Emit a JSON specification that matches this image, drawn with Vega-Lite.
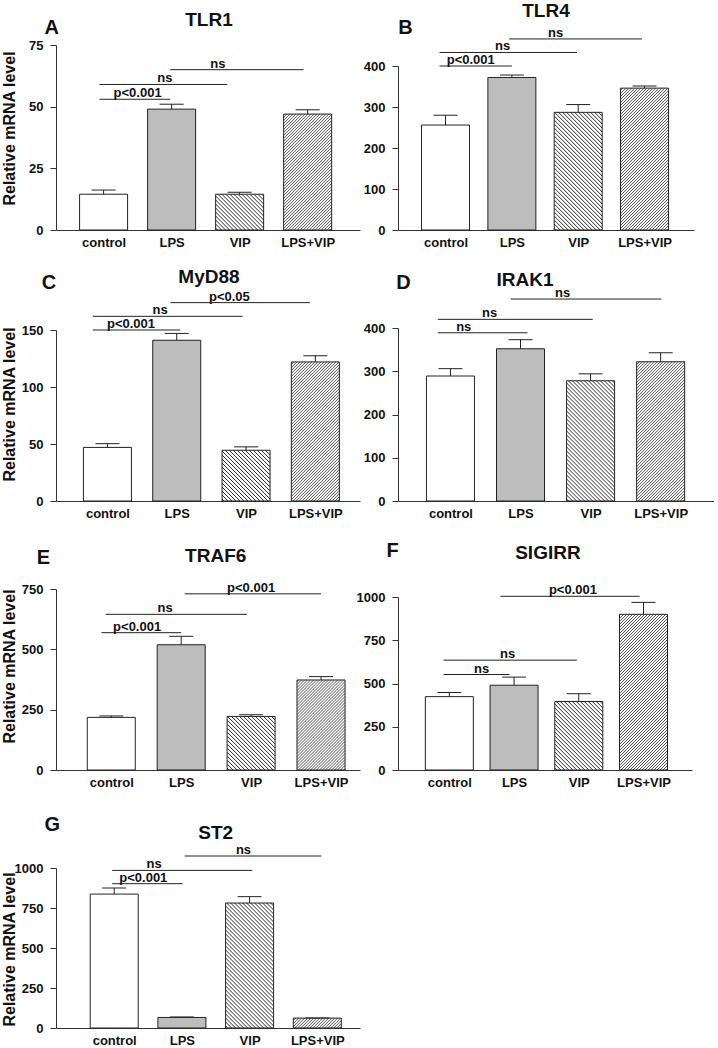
{
"$schema": "https://vega.github.io/schema/vega-lite/v6.json",
"background": "white",
"padding": {"left": 0, "top": 2, "right": 0, "bottom": 0},
"datasets": {
"bars": [
{"p":"A","g":"control","i":0,"v":14.5,"hi":16.2},
{"p":"A","g":"LPS","i":1,"v":49,"hi":51},
{"p":"A","g":"VIP","i":2,"v":14.5,"hi":15.3},
{"p":"A","g":"LPS+VIP","i":3,"v":47,"hi":48.8},
{"p":"B","g":"control","i":0,"v":256,"hi":280},
{"p":"B","g":"LPS","i":1,"v":372,"hi":378},
{"p":"B","g":"VIP","i":2,"v":287,"hi":306},
{"p":"B","g":"LPS+VIP","i":3,"v":346,"hi":351},
{"p":"C","g":"control","i":0,"v":47,"hi":50.3},
{"p":"C","g":"LPS","i":1,"v":141,"hi":147},
{"p":"C","g":"VIP","i":2,"v":44.5,"hi":47.5},
{"p":"C","g":"LPS+VIP","i":3,"v":122,"hi":127.5},
{"p":"D","g":"control","i":0,"v":289,"hi":306},
{"p":"D","g":"LPS","i":1,"v":352,"hi":373},
{"p":"D","g":"VIP","i":2,"v":278,"hi":294},
{"p":"D","g":"LPS+VIP","i":3,"v":322,"hi":343},
{"p":"E","g":"control","i":0,"v":218,"hi":224},
{"p":"E","g":"LPS","i":1,"v":519,"hi":554},
{"p":"E","g":"VIP","i":2,"v":222,"hi":229},
{"p":"E","g":"LPS+VIP","i":3,"v":373,"hi":387},
{"p":"F","g":"control","i":0,"v":424,"hi":448},
{"p":"F","g":"LPS","i":1,"v":490,"hi":537},
{"p":"F","g":"VIP","i":2,"v":396,"hi":441},
{"p":"F","g":"LPS+VIP","i":3,"v":900,"hi":969},
{"p":"G","g":"control","i":0,"v":837,"hi":875},
{"p":"G","g":"LPS","i":1,"v":66,"hi":69},
{"p":"G","g":"VIP","i":2,"v":781,"hi":821},
{"p":"G","g":"LPS+VIP","i":3,"v":62,"hi":63}
],
"brackets": [
{"p":"A","x1":-0.06,"x2":0.98,"y":53,"lx":0.5,"lab":"p<0.001"},
{"p":"A","x1":-0.06,"x2":1.82,"y":59,"lx":0.9,"lab":"ns"},
{"p":"A","x1":0.98,"x2":2.94,"y":65,"lx":1.68,"lab":"ns"},
{"p":"B","x1":-0.09,"x2":1.0,"y":400,"lx":0.38,"lab":"p<0.001"},
{"p":"B","x1":-0.09,"x2":1.98,"y":433,"lx":0.86,"lab":"ns"},
{"p":"B","x1":0.96,"x2":2.96,"y":466,"lx":1.66,"lab":"ns"},
{"p":"C","x1":-0.21,"x2":1.05,"y":150,"lx":0.34,"lab":"p<0.001"},
{"p":"C","x1":-0.21,"x2":1.95,"y":162,"lx":0.76,"lab":"ns"},
{"p":"C","x1":0.91,"x2":2.92,"y":174,"lx":1.76,"lab":"p<0.05"},
{"p":"D","x1":-0.18,"x2":1.1,"y":389,"lx":0.19,"lab":"ns"},
{"p":"D","x1":-0.18,"x2":2.03,"y":420,"lx":0.56,"lab":"ns"},
{"p":"D","x1":0.86,"x2":3.01,"y":467,"lx":1.6,"lab":"ns"},
{"p":"E","x1":-0.14,"x2":1.0,"y":569,"lx":0.37,"lab":"p<0.001"},
{"p":"E","x1":-0.08,"x2":1.94,"y":645,"lx":0.77,"lab":"ns"},
{"p":"E","x1":1.05,"x2":3.0,"y":730,"lx":2.0,"lab":"p<0.001"},
{"p":"F","x1":-0.09,"x2":0.93,"y":552,"lx":0.5,"lab":"ns"},
{"p":"F","x1":-0.09,"x2":1.97,"y":635,"lx":0.9,"lab":"ns"},
{"p":"F","x1":0.79,"x2":2.94,"y":1004,"lx":1.91,"lab":"p<0.001"},
{"p":"G","x1":-0.03,"x2":1.01,"y":902,"lx":0.43,"lab":"p<0.001"},
{"p":"G","x1":-0.03,"x2":2.04,"y":985,"lx":0.59,"lab":"ns"},
{"p":"G","x1":1.04,"x2":3.06,"y":1075,"lx":1.91,"lab":"ns"}
],
"panels": [
{"p":"A","t":"A","gene":"TLR1"},{"p":"B","t":"B","gene":"TLR4"},{"p":"C","t":"C","gene":"MyD88"},{"p":"D","t":"D","gene":"IRAK1"},{"p":"E","t":"E","gene":"TRAF6"},{"p":"F","t":"F","gene":"SIGIRR"},{"p":"G","t":"G","gene":"ST2"}
]
},
"columns": 2,
"spacing": {"row": 80, "column": 38},
"bounds": "flush",
"concat": [
{
"width": 304, "height": 185,
"layer": [
{"data": {"name": "bars"}, "transform": [{"filter": "datum.p=='A'"}],
"encoding": {"x": {"field": "i", "type": "quantitative", "scale": {"domain": [-0.626, 3.696], "nice": false, "zero": false}, "axis": {"values": [0,1,2,3], "labelExpr": "['control','LPS','VIP','LPS+VIP'][datum.value]", "title": null}}},
"layer": [
{"transform": [{"filter": "datum.g=='VIP'"}], "mark": {"type": "point", "shape": "M-22,0l-2,-2M-18,0l-6,-6M-14,0l-10,-10M-10,0l-14,-14M-6,0l-18,-18M-2,0l-22,-22M2,0l-26,-26M6,0l-30,-30M10,0l-34,-34M14,0l-38,-38M18,0l-42,-42M22,0l-46,-46M24,-2l-48,-48M24,-6l-48,-48M24,-10l-48,-48M24,-14l-48,-48M24,-18l-48,-48M24,-22l-48,-48M24,-26l-48,-48M24,-30l-48,-48M24,-34l-48,-48M24,-38l-48,-48M24,-42l-48,-48M24,-46l-48,-48M24,-50l-48,-48M24,-54l-48,-48M24,-58l-48,-48M24,-62l-48,-48M24,-66l-48,-48M24,-70l-48,-48M24,-74l-48,-48M24,-78l-48,-48M24,-82l-48,-48M24,-86l-48,-48M24,-90l-48,-48M24,-94l-48,-48M24,-98l-48,-48M24,-102l-48,-48M24,-106l-48,-48M24,-110l-48,-48M24,-114l-48,-48M24,-118l-48,-48M24,-122l-48,-48M24,-126l-48,-48M24,-130l-48,-48M24,-134l-48,-48M24,-138l-48,-48M24,-142l-48,-48M24,-146l-48,-48M24,-150l-48,-48M24,-154l-48,-48M24,-158l-48,-48M24,-162l-48,-48", "size": 4, "filled": false, "stroke": "#2a2a2a", "strokeWidth": 1, "opacity": 1, "clip": true}, "encoding": {"y": {"datum": 0, "type": "quantitative"}}},
{"transform": [{"filter": "datum.g=='LPS+VIP'"}], "mark": {"type": "point", "shape": "M22.5,0l1.5,-1.5M19.5,0l4.5,-4.5M16.5,0l7.5,-7.5M13.5,0l10.5,-10.5M10.5,0l13.5,-13.5M7.5,0l16.5,-16.5M4.5,0l19.5,-19.5M1.5,0l22.5,-22.5M-1.5,0l25.5,-25.5M-4.5,0l28.5,-28.5M-7.5,0l31.5,-31.5M-10.5,0l34.5,-34.5M-13.5,0l37.5,-37.5M-16.5,0l40.5,-40.5M-19.5,0l43.5,-43.5M-22.5,0l46.5,-46.5M-24,-1.5l48,-48M-24,-4.5l48,-48M-24,-7.5l48,-48M-24,-10.5l48,-48M-24,-13.5l48,-48M-24,-16.5l48,-48M-24,-19.5l48,-48M-24,-22.5l48,-48M-24,-25.5l48,-48M-24,-28.5l48,-48M-24,-31.5l48,-48M-24,-34.5l48,-48M-24,-37.5l48,-48M-24,-40.5l48,-48M-24,-43.5l48,-48M-24,-46.5l48,-48M-24,-49.5l48,-48M-24,-52.5l48,-48M-24,-55.5l48,-48M-24,-58.5l48,-48M-24,-61.5l48,-48M-24,-64.5l48,-48M-24,-67.5l48,-48M-24,-70.5l48,-48M-24,-73.5l48,-48M-24,-76.5l48,-48M-24,-79.5l48,-48M-24,-82.5l48,-48M-24,-85.5l48,-48M-24,-88.5l48,-48M-24,-91.5l48,-48M-24,-94.5l48,-48M-24,-97.5l48,-48M-24,-100.5l48,-48M-24,-103.5l48,-48M-24,-106.5l48,-48M-24,-109.5l48,-48M-24,-112.5l48,-48M-24,-115.5l48,-48M-24,-118.5l48,-48M-24,-121.5l48,-48M-24,-124.5l48,-48M-24,-127.5l48,-48M-24,-130.5l48,-48M-24,-133.5l48,-48M-24,-136.5l48,-48M-24,-139.5l48,-48M-24,-142.5l48,-48M-24,-145.5l48,-48M-24,-148.5l48,-48M-24,-151.5l48,-48M-24,-154.5l48,-48M-24,-157.5l48,-48M-24,-160.5l48,-48M-24,-163.5l48,-48", "size": 4, "filled": false, "stroke": "#2a2a2a", "strokeWidth": 0.8, "opacity": 1, "clip": true}, "encoding": {"y": {"datum": 0, "type": "quantitative"}}},
{"mark": {"type": "bar", "width": 52, "fill": "#ffffff", "strokeWidth": 0, "clip": true, "orient": "vertical"}, "encoding": {"y": {"field": "v", "type": "quantitative"}, "y2": {"datum": 100000}}},
{"mark": {"type": "bar", "width": 48, "stroke": "#222222", "strokeWidth": 1, "orient": "vertical"}, "encoding": {"y": {"field": "v", "type": "quantitative", "stack": null, "scale": {"domain": [0, 75], "nice": false, "zero": true}, "axis": {"values": [0,25,50,75], "format": "d", "title": "Relative mRNA level", "titleX": -47, "titleY": 83}}, "fill": {"field": "g", "type": "nominal", "scale": {"domain": ["control","LPS","VIP","LPS+VIP"], "range": ["#ffffff","#bdbdbd","transparent","transparent"]}, "legend": null}}},
{"mark": {"type": "rule", "color": "#222222", "strokeWidth": 1}, "encoding": {"y": {"field": "v", "type": "quantitative"}, "y2": {"field": "hi"}}},
{"mark": {"type": "tick", "orient": "horizontal", "size": 24, "thickness": 1, "color": "#222222", "opacity": 1}, "encoding": {"y": {"field": "hi", "type": "quantitative"}}}
]},
{"data": {"name": "brackets"}, "transform": [{"filter": "datum.p=='A'"}], "mark": {"type": "rule", "color": "#222222", "strokeWidth": 1}, "encoding": {"x": {"field": "x1", "type": "quantitative"}, "x2": {"field": "x2"}, "y": {"field": "y", "type": "quantitative"}}},
{"data": {"name": "brackets"}, "transform": [{"filter": "datum.p=='A'"}], "mark": {"type": "text", "fontSize": 13, "fontWeight": "bold", "baseline": "alphabetic", "dy": -2, "color": "#111111"}, "encoding": {"x": {"field": "lx", "type": "quantitative"}, "y": {"field": "y", "type": "quantitative"}, "text": {"field": "lab"}}},
{"data": {"name": "panels"}, "transform": [{"filter": "datum.p=='A'"}], "mark": {"type": "text", "fontSize": 20, "fontWeight": "bold", "align": "left", "baseline": "alphabetic", "color": "#111111"}, "encoding": {"x": {"datum": -0.868}, "y": {"datum": 79.4}, "text": {"field": "t"}}},
{"data": {"name": "panels"}, "transform": [{"filter": "datum.p=='A'"}], "mark": {"type": "text", "fontSize": 19, "fontWeight": "bold", "align": "center", "baseline": "alphabetic", "color": "#111111"}, "encoding": {"x": {"datum": 1.549}, "y": {"datum": 82.7}, "text": {"field": "gene"}}}
]
},
{
"width": 296, "height": 185,
"layer": [
{"data": {"name": "bars"}, "transform": [{"filter": "datum.p=='B'"}],
"encoding": {"x": {"field": "i", "type": "quantitative", "scale": {"domain": [-0.641, 3.67], "nice": false, "zero": false}, "axis": {"values": [0,1,2,3], "labelExpr": "['control','LPS','VIP','LPS+VIP'][datum.value]", "title": null}}},
"layer": [
{"transform": [{"filter": "datum.g=='VIP'"}], "mark": {"type": "point", "shape": "M-22,0l-2,-2M-18,0l-6,-6M-14,0l-10,-10M-10,0l-14,-14M-6,0l-18,-18M-2,0l-22,-22M2,0l-26,-26M6,0l-30,-30M10,0l-34,-34M14,0l-38,-38M18,0l-42,-42M22,0l-46,-46M24,-2l-48,-48M24,-6l-48,-48M24,-10l-48,-48M24,-14l-48,-48M24,-18l-48,-48M24,-22l-48,-48M24,-26l-48,-48M24,-30l-48,-48M24,-34l-48,-48M24,-38l-48,-48M24,-42l-48,-48M24,-46l-48,-48M24,-50l-48,-48M24,-54l-48,-48M24,-58l-48,-48M24,-62l-48,-48M24,-66l-48,-48M24,-70l-48,-48M24,-74l-48,-48M24,-78l-48,-48M24,-82l-48,-48M24,-86l-48,-48M24,-90l-48,-48M24,-94l-48,-48M24,-98l-48,-48M24,-102l-48,-48M24,-106l-48,-48M24,-110l-48,-48M24,-114l-48,-48M24,-118l-48,-48M24,-122l-48,-48M24,-126l-48,-48M24,-130l-48,-48M24,-134l-48,-48M24,-138l-48,-48M24,-142l-48,-48M24,-146l-48,-48M24,-150l-48,-48M24,-154l-48,-48M24,-158l-48,-48M24,-162l-48,-48", "size": 4, "filled": false, "stroke": "#2a2a2a", "strokeWidth": 1, "opacity": 1, "clip": true}, "encoding": {"y": {"datum": 0, "type": "quantitative"}}},
{"transform": [{"filter": "datum.g=='LPS+VIP'"}], "mark": {"type": "point", "shape": "M22.5,0l1.5,-1.5M19.5,0l4.5,-4.5M16.5,0l7.5,-7.5M13.5,0l10.5,-10.5M10.5,0l13.5,-13.5M7.5,0l16.5,-16.5M4.5,0l19.5,-19.5M1.5,0l22.5,-22.5M-1.5,0l25.5,-25.5M-4.5,0l28.5,-28.5M-7.5,0l31.5,-31.5M-10.5,0l34.5,-34.5M-13.5,0l37.5,-37.5M-16.5,0l40.5,-40.5M-19.5,0l43.5,-43.5M-22.5,0l46.5,-46.5M-24,-1.5l48,-48M-24,-4.5l48,-48M-24,-7.5l48,-48M-24,-10.5l48,-48M-24,-13.5l48,-48M-24,-16.5l48,-48M-24,-19.5l48,-48M-24,-22.5l48,-48M-24,-25.5l48,-48M-24,-28.5l48,-48M-24,-31.5l48,-48M-24,-34.5l48,-48M-24,-37.5l48,-48M-24,-40.5l48,-48M-24,-43.5l48,-48M-24,-46.5l48,-48M-24,-49.5l48,-48M-24,-52.5l48,-48M-24,-55.5l48,-48M-24,-58.5l48,-48M-24,-61.5l48,-48M-24,-64.5l48,-48M-24,-67.5l48,-48M-24,-70.5l48,-48M-24,-73.5l48,-48M-24,-76.5l48,-48M-24,-79.5l48,-48M-24,-82.5l48,-48M-24,-85.5l48,-48M-24,-88.5l48,-48M-24,-91.5l48,-48M-24,-94.5l48,-48M-24,-97.5l48,-48M-24,-100.5l48,-48M-24,-103.5l48,-48M-24,-106.5l48,-48M-24,-109.5l48,-48M-24,-112.5l48,-48M-24,-115.5l48,-48M-24,-118.5l48,-48M-24,-121.5l48,-48M-24,-124.5l48,-48M-24,-127.5l48,-48M-24,-130.5l48,-48M-24,-133.5l48,-48M-24,-136.5l48,-48M-24,-139.5l48,-48M-24,-142.5l48,-48M-24,-145.5l48,-48M-24,-148.5l48,-48M-24,-151.5l48,-48M-24,-154.5l48,-48M-24,-157.5l48,-48M-24,-160.5l48,-48M-24,-163.5l48,-48", "size": 4, "filled": false, "stroke": "#2a2a2a", "strokeWidth": 0.8, "opacity": 1, "clip": true}, "encoding": {"y": {"datum": 0, "type": "quantitative"}}},
{"mark": {"type": "bar", "width": 52, "fill": "#ffffff", "strokeWidth": 0, "clip": true, "orient": "vertical"}, "encoding": {"y": {"field": "v", "type": "quantitative"}, "y2": {"datum": 100000}}},
{"mark": {"type": "bar", "width": 48, "stroke": "#222222", "strokeWidth": 1, "orient": "vertical"}, "encoding": {"y": {"field": "v", "type": "quantitative", "stack": null, "scale": {"domain": [0, 400], "range": [185, 21], "nice": false, "zero": true}, "axis": {"values": [0,100,200,300,400], "format": "d", "title": null}}, "fill": {"field": "g", "type": "nominal", "scale": {"domain": ["control","LPS","VIP","LPS+VIP"], "range": ["#ffffff","#bdbdbd","transparent","transparent"]}, "legend": null}}},
{"mark": {"type": "rule", "color": "#222222", "strokeWidth": 1}, "encoding": {"y": {"field": "v", "type": "quantitative"}, "y2": {"field": "hi"}}},
{"mark": {"type": "tick", "orient": "horizontal", "size": 24, "thickness": 1, "color": "#222222", "opacity": 1}, "encoding": {"y": {"field": "hi", "type": "quantitative"}}}
]},
{"data": {"name": "brackets"}, "transform": [{"filter": "datum.p=='B'"}], "mark": {"type": "rule", "color": "#222222", "strokeWidth": 1}, "encoding": {"x": {"field": "x1", "type": "quantitative"}, "x2": {"field": "x2"}, "y": {"field": "y", "type": "quantitative"}}},
{"data": {"name": "brackets"}, "transform": [{"filter": "datum.p=='B'"}], "mark": {"type": "text", "fontSize": 13, "fontWeight": "bold", "baseline": "alphabetic", "dy": -2, "color": "#111111"}, "encoding": {"x": {"field": "lx", "type": "quantitative"}, "y": {"field": "y", "type": "quantitative"}, "text": {"field": "lab"}}},
{"data": {"name": "panels"}, "transform": [{"filter": "datum.p=='B'"}], "mark": {"type": "text", "fontSize": 20, "fontWeight": "bold", "align": "left", "baseline": "alphabetic", "color": "#111111"}, "encoding": {"x": {"datum": -0.714}, "y": {"datum": 478}, "text": {"field": "t"}}},
{"data": {"name": "panels"}, "transform": [{"filter": "datum.p=='B'"}], "mark": {"type": "text", "fontSize": 19, "fontWeight": "bold", "align": "center", "baseline": "alphabetic", "color": "#111111"}, "encoding": {"x": {"datum": 1.514}, "y": {"datum": 519.5}, "text": {"field": "gene"}}}
]
},
{
"width": 304, "height": 191,
"layer": [
{"data": {"name": "bars"}, "transform": [{"filter": "datum.p=='C'"}],
"encoding": {"x": {"field": "i", "type": "quantitative", "scale": {"domain": [-0.67, 3.572], "nice": false, "zero": false}, "axis": {"values": [0,1,2,3], "labelExpr": "['control','LPS','VIP','LPS+VIP'][datum.value]", "title": null}}},
"layer": [
{"transform": [{"filter": "datum.g=='VIP'"}], "mark": {"type": "point", "shape": "M-22,0l-2,-2M-18,0l-6,-6M-14,0l-10,-10M-10,0l-14,-14M-6,0l-18,-18M-2,0l-22,-22M2,0l-26,-26M6,0l-30,-30M10,0l-34,-34M14,0l-38,-38M18,0l-42,-42M22,0l-46,-46M24,-2l-48,-48M24,-6l-48,-48M24,-10l-48,-48M24,-14l-48,-48M24,-18l-48,-48M24,-22l-48,-48M24,-26l-48,-48M24,-30l-48,-48M24,-34l-48,-48M24,-38l-48,-48M24,-42l-48,-48M24,-46l-48,-48M24,-50l-48,-48M24,-54l-48,-48M24,-58l-48,-48M24,-62l-48,-48M24,-66l-48,-48M24,-70l-48,-48M24,-74l-48,-48M24,-78l-48,-48M24,-82l-48,-48M24,-86l-48,-48M24,-90l-48,-48M24,-94l-48,-48M24,-98l-48,-48M24,-102l-48,-48M24,-106l-48,-48M24,-110l-48,-48M24,-114l-48,-48M24,-118l-48,-48M24,-122l-48,-48M24,-126l-48,-48M24,-130l-48,-48M24,-134l-48,-48M24,-138l-48,-48M24,-142l-48,-48M24,-146l-48,-48M24,-150l-48,-48M24,-154l-48,-48M24,-158l-48,-48M24,-162l-48,-48", "size": 4, "filled": false, "stroke": "#2a2a2a", "strokeWidth": 1, "opacity": 1, "clip": true}, "encoding": {"y": {"datum": 0, "type": "quantitative"}}},
{"transform": [{"filter": "datum.g=='LPS+VIP'"}], "mark": {"type": "point", "shape": "M22.5,0l1.5,-1.5M19.5,0l4.5,-4.5M16.5,0l7.5,-7.5M13.5,0l10.5,-10.5M10.5,0l13.5,-13.5M7.5,0l16.5,-16.5M4.5,0l19.5,-19.5M1.5,0l22.5,-22.5M-1.5,0l25.5,-25.5M-4.5,0l28.5,-28.5M-7.5,0l31.5,-31.5M-10.5,0l34.5,-34.5M-13.5,0l37.5,-37.5M-16.5,0l40.5,-40.5M-19.5,0l43.5,-43.5M-22.5,0l46.5,-46.5M-24,-1.5l48,-48M-24,-4.5l48,-48M-24,-7.5l48,-48M-24,-10.5l48,-48M-24,-13.5l48,-48M-24,-16.5l48,-48M-24,-19.5l48,-48M-24,-22.5l48,-48M-24,-25.5l48,-48M-24,-28.5l48,-48M-24,-31.5l48,-48M-24,-34.5l48,-48M-24,-37.5l48,-48M-24,-40.5l48,-48M-24,-43.5l48,-48M-24,-46.5l48,-48M-24,-49.5l48,-48M-24,-52.5l48,-48M-24,-55.5l48,-48M-24,-58.5l48,-48M-24,-61.5l48,-48M-24,-64.5l48,-48M-24,-67.5l48,-48M-24,-70.5l48,-48M-24,-73.5l48,-48M-24,-76.5l48,-48M-24,-79.5l48,-48M-24,-82.5l48,-48M-24,-85.5l48,-48M-24,-88.5l48,-48M-24,-91.5l48,-48M-24,-94.5l48,-48M-24,-97.5l48,-48M-24,-100.5l48,-48M-24,-103.5l48,-48M-24,-106.5l48,-48M-24,-109.5l48,-48M-24,-112.5l48,-48M-24,-115.5l48,-48M-24,-118.5l48,-48M-24,-121.5l48,-48M-24,-124.5l48,-48M-24,-127.5l48,-48M-24,-130.5l48,-48M-24,-133.5l48,-48M-24,-136.5l48,-48M-24,-139.5l48,-48M-24,-142.5l48,-48M-24,-145.5l48,-48M-24,-148.5l48,-48M-24,-151.5l48,-48M-24,-154.5l48,-48M-24,-157.5l48,-48M-24,-160.5l48,-48M-24,-163.5l48,-48", "size": 4, "filled": false, "stroke": "#2a2a2a", "strokeWidth": 0.8, "opacity": 1, "clip": true}, "encoding": {"y": {"datum": 0, "type": "quantitative"}}},
{"mark": {"type": "bar", "width": 52, "fill": "#ffffff", "strokeWidth": 0, "clip": true, "orient": "vertical"}, "encoding": {"y": {"field": "v", "type": "quantitative"}, "y2": {"datum": 100000}}},
{"mark": {"type": "bar", "width": 48, "stroke": "#222222", "strokeWidth": 1, "orient": "vertical"}, "encoding": {"y": {"field": "v", "type": "quantitative", "stack": null, "scale": {"domain": [0, 150], "range": [191, 20], "nice": false, "zero": true}, "axis": {"values": [0,50,100,150], "format": "d", "title": "Relative mRNA level", "titleX": -47, "titleY": 94}}, "fill": {"field": "g", "type": "nominal", "scale": {"domain": ["control","LPS","VIP","LPS+VIP"], "range": ["#ffffff","#bdbdbd","transparent","transparent"]}, "legend": null}}},
{"mark": {"type": "rule", "color": "#222222", "strokeWidth": 1}, "encoding": {"y": {"field": "v", "type": "quantitative"}, "y2": {"field": "hi"}}},
{"mark": {"type": "tick", "orient": "horizontal", "size": 24, "thickness": 1, "color": "#222222", "opacity": 1}, "encoding": {"y": {"field": "hi", "type": "quantitative"}}}
]},
{"data": {"name": "brackets"}, "transform": [{"filter": "datum.p=='C'"}], "mark": {"type": "rule", "color": "#222222", "strokeWidth": 1}, "encoding": {"x": {"field": "x1", "type": "quantitative"}, "x2": {"field": "x2"}, "y": {"field": "y", "type": "quantitative"}}},
{"data": {"name": "brackets"}, "transform": [{"filter": "datum.p=='C'"}], "mark": {"type": "text", "fontSize": 13, "fontWeight": "bold", "baseline": "alphabetic", "dy": -2, "color": "#111111"}, "encoding": {"x": {"field": "lx", "type": "quantitative"}, "y": {"field": "y", "type": "quantitative"}, "text": {"field": "lab"}}},
{"data": {"name": "panels"}, "transform": [{"filter": "datum.p=='C'"}], "mark": {"type": "text", "fontSize": 20, "fontWeight": "bold", "align": "left", "baseline": "alphabetic", "color": "#111111"}, "encoding": {"x": {"datum": -0.949}, "y": {"datum": 186}, "text": {"field": "t"}}},
{"data": {"name": "panels"}, "transform": [{"filter": "datum.p=='C'"}], "mark": {"type": "text", "fontSize": 19, "fontWeight": "bold", "align": "center", "baseline": "alphabetic", "color": "#111111"}, "encoding": {"x": {"datum": 1.465}, "y": {"datum": 191.2}, "text": {"field": "gene"}}}
]
},
{
"width": 316, "height": 191,
"layer": [
{"data": {"name": "bars"}, "transform": [{"filter": "datum.p=='D'"}],
"encoding": {"x": {"field": "i", "type": "quantitative", "scale": {"domain": [-0.677, 3.69], "nice": false, "zero": false}, "axis": {"values": [0,1,2,3], "labelExpr": "['control','LPS','VIP','LPS+VIP'][datum.value]", "title": null}}},
"layer": [
{"transform": [{"filter": "datum.g=='VIP'"}], "mark": {"type": "point", "shape": "M-22,0l-2,-2M-18,0l-6,-6M-14,0l-10,-10M-10,0l-14,-14M-6,0l-18,-18M-2,0l-22,-22M2,0l-26,-26M6,0l-30,-30M10,0l-34,-34M14,0l-38,-38M18,0l-42,-42M22,0l-46,-46M24,-2l-48,-48M24,-6l-48,-48M24,-10l-48,-48M24,-14l-48,-48M24,-18l-48,-48M24,-22l-48,-48M24,-26l-48,-48M24,-30l-48,-48M24,-34l-48,-48M24,-38l-48,-48M24,-42l-48,-48M24,-46l-48,-48M24,-50l-48,-48M24,-54l-48,-48M24,-58l-48,-48M24,-62l-48,-48M24,-66l-48,-48M24,-70l-48,-48M24,-74l-48,-48M24,-78l-48,-48M24,-82l-48,-48M24,-86l-48,-48M24,-90l-48,-48M24,-94l-48,-48M24,-98l-48,-48M24,-102l-48,-48M24,-106l-48,-48M24,-110l-48,-48M24,-114l-48,-48M24,-118l-48,-48M24,-122l-48,-48M24,-126l-48,-48M24,-130l-48,-48M24,-134l-48,-48M24,-138l-48,-48M24,-142l-48,-48M24,-146l-48,-48M24,-150l-48,-48M24,-154l-48,-48M24,-158l-48,-48M24,-162l-48,-48", "size": 4, "filled": false, "stroke": "#2a2a2a", "strokeWidth": 1, "opacity": 1, "clip": true}, "encoding": {"y": {"datum": 0, "type": "quantitative"}}},
{"transform": [{"filter": "datum.g=='LPS+VIP'"}], "mark": {"type": "point", "shape": "M22.5,0l1.5,-1.5M19.5,0l4.5,-4.5M16.5,0l7.5,-7.5M13.5,0l10.5,-10.5M10.5,0l13.5,-13.5M7.5,0l16.5,-16.5M4.5,0l19.5,-19.5M1.5,0l22.5,-22.5M-1.5,0l25.5,-25.5M-4.5,0l28.5,-28.5M-7.5,0l31.5,-31.5M-10.5,0l34.5,-34.5M-13.5,0l37.5,-37.5M-16.5,0l40.5,-40.5M-19.5,0l43.5,-43.5M-22.5,0l46.5,-46.5M-24,-1.5l48,-48M-24,-4.5l48,-48M-24,-7.5l48,-48M-24,-10.5l48,-48M-24,-13.5l48,-48M-24,-16.5l48,-48M-24,-19.5l48,-48M-24,-22.5l48,-48M-24,-25.5l48,-48M-24,-28.5l48,-48M-24,-31.5l48,-48M-24,-34.5l48,-48M-24,-37.5l48,-48M-24,-40.5l48,-48M-24,-43.5l48,-48M-24,-46.5l48,-48M-24,-49.5l48,-48M-24,-52.5l48,-48M-24,-55.5l48,-48M-24,-58.5l48,-48M-24,-61.5l48,-48M-24,-64.5l48,-48M-24,-67.5l48,-48M-24,-70.5l48,-48M-24,-73.5l48,-48M-24,-76.5l48,-48M-24,-79.5l48,-48M-24,-82.5l48,-48M-24,-85.5l48,-48M-24,-88.5l48,-48M-24,-91.5l48,-48M-24,-94.5l48,-48M-24,-97.5l48,-48M-24,-100.5l48,-48M-24,-103.5l48,-48M-24,-106.5l48,-48M-24,-109.5l48,-48M-24,-112.5l48,-48M-24,-115.5l48,-48M-24,-118.5l48,-48M-24,-121.5l48,-48M-24,-124.5l48,-48M-24,-127.5l48,-48M-24,-130.5l48,-48M-24,-133.5l48,-48M-24,-136.5l48,-48M-24,-139.5l48,-48M-24,-142.5l48,-48M-24,-145.5l48,-48M-24,-148.5l48,-48M-24,-151.5l48,-48M-24,-154.5l48,-48M-24,-157.5l48,-48M-24,-160.5l48,-48M-24,-163.5l48,-48", "size": 4, "filled": false, "stroke": "#2a2a2a", "strokeWidth": 0.8, "opacity": 1, "clip": true}, "encoding": {"y": {"datum": 0, "type": "quantitative"}}},
{"mark": {"type": "bar", "width": 52, "fill": "#ffffff", "strokeWidth": 0, "clip": true, "orient": "vertical"}, "encoding": {"y": {"field": "v", "type": "quantitative"}, "y2": {"datum": 100000}}},
{"mark": {"type": "bar", "width": 48, "stroke": "#222222", "strokeWidth": 1, "orient": "vertical"}, "encoding": {"y": {"field": "v", "type": "quantitative", "stack": null, "scale": {"domain": [0, 400], "range": [191, 18], "nice": false, "zero": true}, "axis": {"values": [0,100,200,300,400], "format": "d", "title": null}}, "fill": {"field": "g", "type": "nominal", "scale": {"domain": ["control","LPS","VIP","LPS+VIP"], "range": ["#ffffff","#bdbdbd","transparent","transparent"]}, "legend": null}}},
{"mark": {"type": "rule", "color": "#222222", "strokeWidth": 1}, "encoding": {"y": {"field": "v", "type": "quantitative"}, "y2": {"field": "hi"}}},
{"mark": {"type": "tick", "orient": "horizontal", "size": 24, "thickness": 1, "color": "#222222", "opacity": 1}, "encoding": {"y": {"field": "hi", "type": "quantitative"}}}
]},
{"data": {"name": "brackets"}, "transform": [{"filter": "datum.p=='D'"}], "mark": {"type": "rule", "color": "#222222", "strokeWidth": 1}, "encoding": {"x": {"field": "x1", "type": "quantitative"}, "x2": {"field": "x2"}, "y": {"field": "y", "type": "quantitative"}}},
{"data": {"name": "brackets"}, "transform": [{"filter": "datum.p=='D'"}], "mark": {"type": "text", "fontSize": 13, "fontWeight": "bold", "baseline": "alphabetic", "dy": -2, "color": "#111111"}, "encoding": {"x": {"field": "lx", "type": "quantitative"}, "y": {"field": "y", "type": "quantitative"}, "text": {"field": "lab"}}},
{"data": {"name": "panels"}, "transform": [{"filter": "datum.p=='D'"}], "mark": {"type": "text", "fontSize": 20, "fontWeight": "bold", "align": "left", "baseline": "alphabetic", "color": "#111111"}, "encoding": {"x": {"datum": -0.774}, "y": {"datum": 490}, "text": {"field": "t"}}},
{"data": {"name": "panels"}, "transform": [{"filter": "datum.p=='D'"}], "mark": {"type": "text", "fontSize": 19, "fontWeight": "bold", "align": "center", "baseline": "alphabetic", "color": "#111111"}, "encoding": {"x": {"datum": 1.065}, "y": {"datum": 497.1}, "text": {"field": "gene"}}}
]
},
{
"width": 304, "height": 189,
"layer": [
{"data": {"name": "bars"}, "transform": [{"filter": "datum.p=='E'"}],
"encoding": {"x": {"field": "i", "type": "quantitative", "scale": {"domain": [-0.719, 3.486], "nice": false, "zero": false}, "axis": {"values": [0,1,2,3], "labelExpr": "['control','LPS','VIP','LPS+VIP'][datum.value]", "title": null}}},
"layer": [
{"transform": [{"filter": "datum.g=='VIP'"}], "mark": {"type": "point", "shape": "M-22,0l-2,-2M-18,0l-6,-6M-14,0l-10,-10M-10,0l-14,-14M-6,0l-18,-18M-2,0l-22,-22M2,0l-26,-26M6,0l-30,-30M10,0l-34,-34M14,0l-38,-38M18,0l-42,-42M22,0l-46,-46M24,-2l-48,-48M24,-6l-48,-48M24,-10l-48,-48M24,-14l-48,-48M24,-18l-48,-48M24,-22l-48,-48M24,-26l-48,-48M24,-30l-48,-48M24,-34l-48,-48M24,-38l-48,-48M24,-42l-48,-48M24,-46l-48,-48M24,-50l-48,-48M24,-54l-48,-48M24,-58l-48,-48M24,-62l-48,-48M24,-66l-48,-48M24,-70l-48,-48M24,-74l-48,-48M24,-78l-48,-48M24,-82l-48,-48M24,-86l-48,-48M24,-90l-48,-48M24,-94l-48,-48M24,-98l-48,-48M24,-102l-48,-48M24,-106l-48,-48M24,-110l-48,-48M24,-114l-48,-48M24,-118l-48,-48M24,-122l-48,-48M24,-126l-48,-48M24,-130l-48,-48M24,-134l-48,-48M24,-138l-48,-48M24,-142l-48,-48M24,-146l-48,-48M24,-150l-48,-48M24,-154l-48,-48M24,-158l-48,-48M24,-162l-48,-48", "size": 4, "filled": false, "stroke": "#2a2a2a", "strokeWidth": 1, "opacity": 1, "clip": true}, "encoding": {"y": {"datum": 0, "type": "quantitative"}}},
{"transform": [{"filter": "datum.g=='LPS+VIP'"}], "mark": {"type": "point", "shape": "M22.5,0l1.5,-1.5M19.5,0l4.5,-4.5M16.5,0l7.5,-7.5M13.5,0l10.5,-10.5M10.5,0l13.5,-13.5M7.5,0l16.5,-16.5M4.5,0l19.5,-19.5M1.5,0l22.5,-22.5M-1.5,0l25.5,-25.5M-4.5,0l28.5,-28.5M-7.5,0l31.5,-31.5M-10.5,0l34.5,-34.5M-13.5,0l37.5,-37.5M-16.5,0l40.5,-40.5M-19.5,0l43.5,-43.5M-22.5,0l46.5,-46.5M-24,-1.5l48,-48M-24,-4.5l48,-48M-24,-7.5l48,-48M-24,-10.5l48,-48M-24,-13.5l48,-48M-24,-16.5l48,-48M-24,-19.5l48,-48M-24,-22.5l48,-48M-24,-25.5l48,-48M-24,-28.5l48,-48M-24,-31.5l48,-48M-24,-34.5l48,-48M-24,-37.5l48,-48M-24,-40.5l48,-48M-24,-43.5l48,-48M-24,-46.5l48,-48M-24,-49.5l48,-48M-24,-52.5l48,-48M-24,-55.5l48,-48M-24,-58.5l48,-48M-24,-61.5l48,-48M-24,-64.5l48,-48M-24,-67.5l48,-48M-24,-70.5l48,-48M-24,-73.5l48,-48M-24,-76.5l48,-48M-24,-79.5l48,-48M-24,-82.5l48,-48M-24,-85.5l48,-48M-24,-88.5l48,-48M-24,-91.5l48,-48M-24,-94.5l48,-48M-24,-97.5l48,-48M-24,-100.5l48,-48M-24,-103.5l48,-48M-24,-106.5l48,-48M-24,-109.5l48,-48M-24,-112.5l48,-48M-24,-115.5l48,-48M-24,-118.5l48,-48M-24,-121.5l48,-48M-24,-124.5l48,-48M-24,-127.5l48,-48M-24,-130.5l48,-48M-24,-133.5l48,-48M-24,-136.5l48,-48M-24,-139.5l48,-48M-24,-142.5l48,-48M-24,-145.5l48,-48M-24,-148.5l48,-48M-24,-151.5l48,-48M-24,-154.5l48,-48M-24,-157.5l48,-48M-24,-160.5l48,-48M-24,-163.5l48,-48", "size": 4, "filled": false, "stroke": "#2a2a2a", "strokeWidth": 0.8, "opacity": 1, "clip": true}, "encoding": {"y": {"datum": 0, "type": "quantitative"}}},
{"mark": {"type": "bar", "width": 52, "fill": "#ffffff", "strokeWidth": 0, "clip": true, "orient": "vertical"}, "encoding": {"y": {"field": "v", "type": "quantitative"}, "y2": {"datum": 100000}}},
{"mark": {"type": "bar", "width": 48, "stroke": "#222222", "strokeWidth": 1, "orient": "vertical"}, "encoding": {"y": {"field": "v", "type": "quantitative", "stack": null, "scale": {"domain": [0, 750], "range": [189, 8], "nice": false, "zero": true}, "axis": {"values": [0,250,500,750], "format": "d", "title": "Relative mRNA level", "titleX": -47, "titleY": 85}}, "fill": {"field": "g", "type": "nominal", "scale": {"domain": ["control","LPS","VIP","LPS+VIP"], "range": ["#ffffff","#bdbdbd","transparent","transparent"]}, "legend": null}}},
{"mark": {"type": "rule", "color": "#222222", "strokeWidth": 1}, "encoding": {"y": {"field": "v", "type": "quantitative"}, "y2": {"field": "hi"}}},
{"mark": {"type": "tick", "orient": "horizontal", "size": 24, "thickness": 1, "color": "#222222", "opacity": 1}, "encoding": {"y": {"field": "hi", "type": "quantitative"}}}
]},
{"data": {"name": "brackets"}, "transform": [{"filter": "datum.p=='E'"}], "mark": {"type": "rule", "color": "#222222", "strokeWidth": 1}, "encoding": {"x": {"field": "x1", "type": "quantitative"}, "x2": {"field": "x2"}, "y": {"field": "y", "type": "quantitative"}}},
{"data": {"name": "brackets"}, "transform": [{"filter": "datum.p=='E'"}], "mark": {"type": "text", "fontSize": 13, "fontWeight": "bold", "baseline": "alphabetic", "dy": -2, "color": "#111111"}, "encoding": {"x": {"field": "lx", "type": "quantitative"}, "y": {"field": "y", "type": "quantitative"}, "text": {"field": "lab"}}},
{"data": {"name": "panels"}, "transform": [{"filter": "datum.p=='E'"}], "mark": {"type": "text", "fontSize": 20, "fontWeight": "bold", "align": "left", "baseline": "alphabetic", "color": "#111111"}, "encoding": {"x": {"datum": -1.065}, "y": {"datum": 854}, "text": {"field": "t"}}},
{"data": {"name": "panels"}, "transform": [{"filter": "datum.p=='E'"}], "mark": {"type": "text", "fontSize": 19, "fontWeight": "bold", "align": "center", "baseline": "alphabetic", "color": "#111111"}, "encoding": {"x": {"datum": 1.494}, "y": {"datum": 862}, "text": {"field": "gene"}}}
]
},
{
"width": 294, "height": 189,
"layer": [
{"data": {"name": "bars"}, "transform": [{"filter": "datum.p=='F'"}],
"encoding": {"x": {"field": "i", "type": "quantitative", "scale": {"domain": [-0.716, 3.672], "nice": false, "zero": false}, "axis": {"values": [0,1,2,3], "labelExpr": "['control','LPS','VIP','LPS+VIP'][datum.value]", "title": null}}},
"layer": [
{"transform": [{"filter": "datum.g=='VIP'"}], "mark": {"type": "point", "shape": "M-22,0l-2,-2M-18,0l-6,-6M-14,0l-10,-10M-10,0l-14,-14M-6,0l-18,-18M-2,0l-22,-22M2,0l-26,-26M6,0l-30,-30M10,0l-34,-34M14,0l-38,-38M18,0l-42,-42M22,0l-46,-46M24,-2l-48,-48M24,-6l-48,-48M24,-10l-48,-48M24,-14l-48,-48M24,-18l-48,-48M24,-22l-48,-48M24,-26l-48,-48M24,-30l-48,-48M24,-34l-48,-48M24,-38l-48,-48M24,-42l-48,-48M24,-46l-48,-48M24,-50l-48,-48M24,-54l-48,-48M24,-58l-48,-48M24,-62l-48,-48M24,-66l-48,-48M24,-70l-48,-48M24,-74l-48,-48M24,-78l-48,-48M24,-82l-48,-48M24,-86l-48,-48M24,-90l-48,-48M24,-94l-48,-48M24,-98l-48,-48M24,-102l-48,-48M24,-106l-48,-48M24,-110l-48,-48M24,-114l-48,-48M24,-118l-48,-48M24,-122l-48,-48M24,-126l-48,-48M24,-130l-48,-48M24,-134l-48,-48M24,-138l-48,-48M24,-142l-48,-48M24,-146l-48,-48M24,-150l-48,-48M24,-154l-48,-48M24,-158l-48,-48M24,-162l-48,-48", "size": 4, "filled": false, "stroke": "#2a2a2a", "strokeWidth": 1, "opacity": 1, "clip": true}, "encoding": {"y": {"datum": 0, "type": "quantitative"}}},
{"transform": [{"filter": "datum.g=='LPS+VIP'"}], "mark": {"type": "point", "shape": "M22.5,0l1.5,-1.5M19.5,0l4.5,-4.5M16.5,0l7.5,-7.5M13.5,0l10.5,-10.5M10.5,0l13.5,-13.5M7.5,0l16.5,-16.5M4.5,0l19.5,-19.5M1.5,0l22.5,-22.5M-1.5,0l25.5,-25.5M-4.5,0l28.5,-28.5M-7.5,0l31.5,-31.5M-10.5,0l34.5,-34.5M-13.5,0l37.5,-37.5M-16.5,0l40.5,-40.5M-19.5,0l43.5,-43.5M-22.5,0l46.5,-46.5M-24,-1.5l48,-48M-24,-4.5l48,-48M-24,-7.5l48,-48M-24,-10.5l48,-48M-24,-13.5l48,-48M-24,-16.5l48,-48M-24,-19.5l48,-48M-24,-22.5l48,-48M-24,-25.5l48,-48M-24,-28.5l48,-48M-24,-31.5l48,-48M-24,-34.5l48,-48M-24,-37.5l48,-48M-24,-40.5l48,-48M-24,-43.5l48,-48M-24,-46.5l48,-48M-24,-49.5l48,-48M-24,-52.5l48,-48M-24,-55.5l48,-48M-24,-58.5l48,-48M-24,-61.5l48,-48M-24,-64.5l48,-48M-24,-67.5l48,-48M-24,-70.5l48,-48M-24,-73.5l48,-48M-24,-76.5l48,-48M-24,-79.5l48,-48M-24,-82.5l48,-48M-24,-85.5l48,-48M-24,-88.5l48,-48M-24,-91.5l48,-48M-24,-94.5l48,-48M-24,-97.5l48,-48M-24,-100.5l48,-48M-24,-103.5l48,-48M-24,-106.5l48,-48M-24,-109.5l48,-48M-24,-112.5l48,-48M-24,-115.5l48,-48M-24,-118.5l48,-48M-24,-121.5l48,-48M-24,-124.5l48,-48M-24,-127.5l48,-48M-24,-130.5l48,-48M-24,-133.5l48,-48M-24,-136.5l48,-48M-24,-139.5l48,-48M-24,-142.5l48,-48M-24,-145.5l48,-48M-24,-148.5l48,-48M-24,-151.5l48,-48M-24,-154.5l48,-48M-24,-157.5l48,-48M-24,-160.5l48,-48M-24,-163.5l48,-48", "size": 4, "filled": false, "stroke": "#2a2a2a", "strokeWidth": 0.8, "opacity": 1, "clip": true}, "encoding": {"y": {"datum": 0, "type": "quantitative"}}},
{"mark": {"type": "bar", "width": 52, "fill": "#ffffff", "strokeWidth": 0, "clip": true, "orient": "vertical"}, "encoding": {"y": {"field": "v", "type": "quantitative"}, "y2": {"datum": 100000}}},
{"mark": {"type": "bar", "width": 48, "stroke": "#222222", "strokeWidth": 1, "orient": "vertical"}, "encoding": {"y": {"field": "v", "type": "quantitative", "stack": null, "scale": {"domain": [0, 1000], "range": [189, 16], "nice": false, "zero": true}, "axis": {"values": [0,250,500,750,1000], "format": "d", "title": null}}, "fill": {"field": "g", "type": "nominal", "scale": {"domain": ["control","LPS","VIP","LPS+VIP"], "range": ["#ffffff","#bdbdbd","transparent","transparent"]}, "legend": null}}},
{"mark": {"type": "rule", "color": "#222222", "strokeWidth": 1}, "encoding": {"y": {"field": "v", "type": "quantitative"}, "y2": {"field": "hi"}}},
{"mark": {"type": "tick", "orient": "horizontal", "size": 24, "thickness": 1, "color": "#222222", "opacity": 1}, "encoding": {"y": {"field": "hi", "type": "quantitative"}}}
]},
{"data": {"name": "brackets"}, "transform": [{"filter": "datum.p=='F'"}], "mark": {"type": "rule", "color": "#222222", "strokeWidth": 1}, "encoding": {"x": {"field": "x1", "type": "quantitative"}, "x2": {"field": "x2"}, "y": {"field": "y", "type": "quantitative"}}},
{"data": {"name": "brackets"}, "transform": [{"filter": "datum.p=='F'"}], "mark": {"type": "text", "fontSize": 13, "fontWeight": "bold", "baseline": "alphabetic", "dy": -2, "color": "#111111"}, "encoding": {"x": {"field": "lx", "type": "quantitative"}, "y": {"field": "y", "type": "quantitative"}, "text": {"field": "lab"}}},
{"data": {"name": "panels"}, "transform": [{"filter": "datum.p=='F'"}], "mark": {"type": "text", "fontSize": 20, "fontWeight": "bold", "align": "left", "baseline": "alphabetic", "color": "#111111"}, "encoding": {"x": {"datum": -0.97}, "y": {"datum": 1231}, "text": {"field": "t"}}},
{"data": {"name": "panels"}, "transform": [{"filter": "datum.p=='F'"}], "mark": {"type": "text", "fontSize": 19, "fontWeight": "bold", "align": "center", "baseline": "alphabetic", "color": "#111111"}, "encoding": {"x": {"datum": 1.523}, "y": {"datum": 1219.7}, "text": {"field": "gene"}}}
]
},
{
"width": 304, "height": 178,
"layer": [
{"data": {"name": "bars"}, "transform": [{"filter": "datum.p=='G'"}],
"encoding": {"x": {"field": "i", "type": "quantitative", "scale": {"domain": [-0.786, 3.557], "nice": false, "zero": false}, "axis": {"values": [0,1,2,3], "labelExpr": "['control','LPS','VIP','LPS+VIP'][datum.value]", "title": null}}},
"layer": [
{"transform": [{"filter": "datum.g=='VIP'"}], "mark": {"type": "point", "shape": "M-22,0l-2,-2M-18,0l-6,-6M-14,0l-10,-10M-10,0l-14,-14M-6,0l-18,-18M-2,0l-22,-22M2,0l-26,-26M6,0l-30,-30M10,0l-34,-34M14,0l-38,-38M18,0l-42,-42M22,0l-46,-46M24,-2l-48,-48M24,-6l-48,-48M24,-10l-48,-48M24,-14l-48,-48M24,-18l-48,-48M24,-22l-48,-48M24,-26l-48,-48M24,-30l-48,-48M24,-34l-48,-48M24,-38l-48,-48M24,-42l-48,-48M24,-46l-48,-48M24,-50l-48,-48M24,-54l-48,-48M24,-58l-48,-48M24,-62l-48,-48M24,-66l-48,-48M24,-70l-48,-48M24,-74l-48,-48M24,-78l-48,-48M24,-82l-48,-48M24,-86l-48,-48M24,-90l-48,-48M24,-94l-48,-48M24,-98l-48,-48M24,-102l-48,-48M24,-106l-48,-48M24,-110l-48,-48M24,-114l-48,-48M24,-118l-48,-48M24,-122l-48,-48M24,-126l-48,-48M24,-130l-48,-48M24,-134l-48,-48M24,-138l-48,-48M24,-142l-48,-48M24,-146l-48,-48M24,-150l-48,-48M24,-154l-48,-48M24,-158l-48,-48M24,-162l-48,-48", "size": 4, "filled": false, "stroke": "#2a2a2a", "strokeWidth": 1, "opacity": 1, "clip": true}, "encoding": {"y": {"datum": 0, "type": "quantitative"}}},
{"transform": [{"filter": "datum.g=='LPS+VIP'"}], "mark": {"type": "point", "shape": "M22.5,0l1.5,-1.5M19.5,0l4.5,-4.5M16.5,0l7.5,-7.5M13.5,0l10.5,-10.5M10.5,0l13.5,-13.5M7.5,0l16.5,-16.5M4.5,0l19.5,-19.5M1.5,0l22.5,-22.5M-1.5,0l25.5,-25.5M-4.5,0l28.5,-28.5M-7.5,0l31.5,-31.5M-10.5,0l34.5,-34.5M-13.5,0l37.5,-37.5M-16.5,0l40.5,-40.5M-19.5,0l43.5,-43.5M-22.5,0l46.5,-46.5M-24,-1.5l48,-48M-24,-4.5l48,-48M-24,-7.5l48,-48M-24,-10.5l48,-48M-24,-13.5l48,-48M-24,-16.5l48,-48M-24,-19.5l48,-48M-24,-22.5l48,-48M-24,-25.5l48,-48M-24,-28.5l48,-48M-24,-31.5l48,-48M-24,-34.5l48,-48M-24,-37.5l48,-48M-24,-40.5l48,-48M-24,-43.5l48,-48M-24,-46.5l48,-48M-24,-49.5l48,-48M-24,-52.5l48,-48M-24,-55.5l48,-48M-24,-58.5l48,-48M-24,-61.5l48,-48M-24,-64.5l48,-48M-24,-67.5l48,-48M-24,-70.5l48,-48M-24,-73.5l48,-48M-24,-76.5l48,-48M-24,-79.5l48,-48M-24,-82.5l48,-48M-24,-85.5l48,-48M-24,-88.5l48,-48M-24,-91.5l48,-48M-24,-94.5l48,-48M-24,-97.5l48,-48M-24,-100.5l48,-48M-24,-103.5l48,-48M-24,-106.5l48,-48M-24,-109.5l48,-48M-24,-112.5l48,-48M-24,-115.5l48,-48M-24,-118.5l48,-48M-24,-121.5l48,-48M-24,-124.5l48,-48M-24,-127.5l48,-48M-24,-130.5l48,-48M-24,-133.5l48,-48M-24,-136.5l48,-48M-24,-139.5l48,-48M-24,-142.5l48,-48M-24,-145.5l48,-48M-24,-148.5l48,-48M-24,-151.5l48,-48M-24,-154.5l48,-48M-24,-157.5l48,-48M-24,-160.5l48,-48M-24,-163.5l48,-48", "size": 4, "filled": false, "stroke": "#2a2a2a", "strokeWidth": 0.8, "opacity": 1, "clip": true}, "encoding": {"y": {"datum": 0, "type": "quantitative"}}},
{"mark": {"type": "bar", "width": 52, "fill": "#ffffff", "strokeWidth": 0, "clip": true, "orient": "vertical"}, "encoding": {"y": {"field": "v", "type": "quantitative"}, "y2": {"datum": 100000}}},
{"mark": {"type": "bar", "width": 48, "stroke": "#222222", "strokeWidth": 1, "orient": "vertical"}, "encoding": {"y": {"field": "v", "type": "quantitative", "stack": null, "scale": {"domain": [0, 1000], "range": [178, 18], "nice": false, "zero": true}, "axis": {"values": [0,250,500,750,1000], "format": "d", "title": "Relative mRNA level", "titleX": -47, "titleY": 99}}, "fill": {"field": "g", "type": "nominal", "scale": {"domain": ["control","LPS","VIP","LPS+VIP"], "range": ["#ffffff","#bdbdbd","transparent","transparent"]}, "legend": null}}},
{"mark": {"type": "rule", "color": "#222222", "strokeWidth": 1}, "encoding": {"y": {"field": "v", "type": "quantitative"}, "y2": {"field": "hi"}}},
{"mark": {"type": "tick", "orient": "horizontal", "size": 24, "thickness": 1, "color": "#222222", "opacity": 1}, "encoding": {"y": {"field": "hi", "type": "quantitative"}}}
]},
{"data": {"name": "brackets"}, "transform": [{"filter": "datum.p=='G'"}], "mark": {"type": "rule", "color": "#222222", "strokeWidth": 1}, "encoding": {"x": {"field": "x1", "type": "quantitative"}, "x2": {"field": "x2"}, "y": {"field": "y", "type": "quantitative"}}},
{"data": {"name": "brackets"}, "transform": [{"filter": "datum.p=='G'"}], "mark": {"type": "text", "fontSize": 13, "fontWeight": "bold", "baseline": "alphabetic", "dy": -2, "color": "#111111"}, "encoding": {"x": {"field": "lx", "type": "quantitative"}, "y": {"field": "y", "type": "quantitative"}, "text": {"field": "lab"}}},
{"data": {"name": "panels"}, "transform": [{"filter": "datum.p=='G'"}], "mark": {"type": "text", "fontSize": 20, "fontWeight": "bold", "align": "left", "baseline": "alphabetic", "color": "#111111"}, "encoding": {"x": {"datum": -1.029}, "y": {"datum": 1231}, "text": {"field": "t"}}},
{"data": {"name": "panels"}, "transform": [{"filter": "datum.p=='G'"}], "mark": {"type": "text", "fontSize": 19, "fontWeight": "bold", "align": "center", "baseline": "alphabetic", "color": "#111111"}, "encoding": {"x": {"datum": 1.5}, "y": {"datum": 1181}, "text": {"field": "gene"}}}
]
}
],
"config": {
"view": {"stroke": null},
"font": "Liberation Sans",
"axis": {"labelFont": "Liberation Sans", "labelFontSize": 13, "labelFontWeight": "bold", "labelColor": "#111111", "domainColor": "#333333", "tickColor": "#333333", "grid": false, "titleFont": "Liberation Sans", "titleFontSize": 16, "titleFontWeight": "bold", "titleColor": "#111111", "labelOverlap": false},
"axisX": {"ticks": false, "tickSize": 0, "labelPadding": 6, "labelFlush": false, "labelAngle": 0},
"axisY": {"tickSize": 6, "labelPadding": 7, "titleBaseline": "middle"}
}
}
